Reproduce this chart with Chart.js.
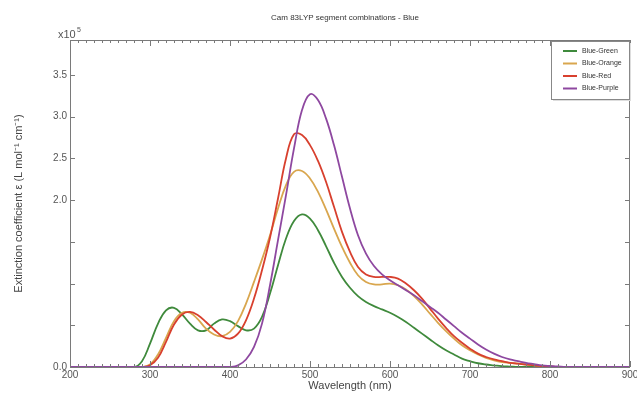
<!DOCTYPE html>
<html>
<head>
<meta charset="utf-8">
<script src="https://cdn.jsdelivr.net/npm/chart.js@4/dist/chart.umd.min.js"></script>
<style>
  html, body { margin: 0; padding: 0; background: #fff; }
  #wrap { position: relative; width: 637px; height: 396px; }
</style>
</head>
<body>
<div id="wrap"><canvas id="myChart"></canvas></div>
<script>
// wavelength grid (nm), values in units of 1e5 L mol^-1 cm^-1
const wavelength = [200, 280, 290, 300, 310, 320, 330, 340, 350, 360, 370, 380, 390, 400, 410, 420, 430, 440, 450, 460, 470, 480, 490, 500, 510, 520, 530, 540, 550, 560, 570, 580, 590, 600, 610, 620, 630, 640, 650, 660, 670, 680, 690, 700, 710, 720, 730, 740, 750, 760, 770, 780, 790, 800, 810, 820, 850, 900];

const blueGreen = [0, 0, 0.07, 0.28, 0.52, 0.68, 0.71, 0.63, 0.52, 0.44, 0.44, 0.52, 0.57, 0.55, 0.49, 0.44, 0.46, 0.60, 0.88, 1.22, 1.54, 1.75, 1.83, 1.78, 1.64, 1.45, 1.25, 1.08, 0.95, 0.85, 0.78, 0.73, 0.69, 0.65, 0.60, 0.54, 0.47, 0.40, 0.33, 0.26, 0.20, 0.15, 0.10, 0.07, 0.045, 0.03, 0.02, 0.01, 0.005, 0, 0, 0, 0, 0, 0, 0, 0, 0];

const blueOrange = [0, 0, 0, 0.03, 0.15, 0.35, 0.55, 0.65, 0.65, 0.57, 0.46, 0.39, 0.37, 0.42, 0.55, 0.76, 1.02, 1.29, 1.58, 1.90, 2.18, 2.34, 2.35, 2.26, 2.10, 1.89, 1.66, 1.44, 1.25, 1.10, 1.02, 0.99, 0.99, 1.00, 0.98, 0.93, 0.85, 0.75, 0.64, 0.53, 0.43, 0.34, 0.26, 0.20, 0.15, 0.11, 0.08, 0.06, 0.05, 0.04, 0.03, 0.02, 0.01, 0.005, 0, 0, 0, 0];

const blueRed = [0, 0, 0, 0.02, 0.11, 0.30, 0.51, 0.63, 0.66, 0.62, 0.54, 0.45, 0.37, 0.34, 0.40, 0.56, 0.82, 1.16, 1.55, 2.02, 2.50, 2.79, 2.78, 2.66, 2.47, 2.22, 1.92, 1.62, 1.38, 1.20, 1.11, 1.08, 1.08, 1.08, 1.06, 1.00, 0.92, 0.82, 0.70, 0.58, 0.47, 0.37, 0.29, 0.22, 0.16, 0.12, 0.09, 0.07, 0.05, 0.04, 0.03, 0.02, 0.01, 0.005, 0, 0, 0, 0];

const bluePurple = [0, 0, 0, 0, 0, 0, 0, 0, 0, 0, 0, 0, 0, 0, 0.02, 0.09, 0.24, 0.52, 0.98, 1.52, 2.06, 2.62, 3.08, 3.27, 3.20, 2.98, 2.66, 2.28, 1.90, 1.58, 1.36, 1.21, 1.11, 1.04, 0.98, 0.92, 0.86, 0.79, 0.72, 0.65, 0.57, 0.49, 0.41, 0.34, 0.27, 0.21, 0.16, 0.12, 0.09, 0.07, 0.05, 0.035, 0.02, 0.012, 0.006, 0, 0, 0];

const seriesNames = ['Blue-Green', 'Blue-Orange', 'Blue-Red', 'Blue-Purple'];
const seriesColors = ['#3f8a3c', '#d9a64e', '#d8402e', '#8e48a0'];
const yTickValues = [0, 2.0, 2.5, 3.0, 3.5];
const chartTitle = 'Cam 83LYP segment combinations - Blue';

function makeSet(i, values, order) {
  return {
    label: seriesNames[i],
    data: wavelength.map((w, j) => ({ x: w, y: values[j] })),
    borderColor: seriesColors[i],
    backgroundColor: seriesColors[i],
    borderWidth: 1.8,
    pointRadius: 0,
    fill: false,
    tension: 0.4,
    order: order
  };
}

// box around the plot with inward ticks, title, exponent and legend
const frameTicks = {
  id: 'frameTicks',
  afterDraw(chart) {
    const { ctx, chartArea: a, scales: { x, y } } = chart;
    ctx.save();
    ctx.strokeStyle = '#7a7a7a';
    ctx.lineWidth = 1;
    ctx.strokeRect(a.left + 0.5, a.top + 0.5, a.right - a.left - 1, a.bottom - a.top);
    ctx.beginPath();
    for (let v = 200; v <= 900; v += 10) {
      const px = Math.round(x.getPixelForValue(v)) + 0.5;
      const len = v % 100 === 0 ? 6 : 3;
      ctx.moveTo(px, a.bottom); ctx.lineTo(px, a.bottom - len);
      ctx.moveTo(px, a.top); ctx.lineTo(px, a.top + len);
    }
    for (let v = 0; v <= 3.9; v += 0.5) {
      const py = Math.round(y.getPixelForValue(v)) + 0.5;
      ctx.moveTo(a.left, py); ctx.lineTo(a.left + 5, py);
      ctx.moveTo(a.right, py); ctx.lineTo(a.right - 5, py);
    }
    ctx.stroke();

    // title over the plot area
    ctx.fillStyle = '#333';
    ctx.font = '8px "Liberation Sans", Arial, sans-serif';
    ctx.textAlign = 'center';
    ctx.textBaseline = 'middle';
    ctx.fillText(chartTitle, (a.left + a.right) / 2 - 5, 18);

    // exponent label
    ctx.textAlign = 'left';
    ctx.textBaseline = 'alphabetic';
    ctx.fillStyle = '#555';
    ctx.font = '11px "Liberation Sans", Arial, sans-serif';
    ctx.fillText('x10', 58, 38);
    ctx.font = '7px "Liberation Sans", Arial, sans-serif';
    ctx.fillText('5', 77, 32);

    // legend box
    const lx = 551, ly = 41, lw = 78, lh = 58;
    ctx.fillStyle = '#ddd';
    ctx.fillRect(lx + 2, ly + 2, lw, lh);
    ctx.fillStyle = '#fff';
    ctx.fillRect(lx, ly, lw, lh);
    ctx.strokeStyle = '#888';
    ctx.strokeRect(lx + 0.5, ly + 0.5, lw, lh);
    ctx.font = '7px "Liberation Sans", Arial, sans-serif';
    ctx.textBaseline = 'middle';
    chart.data.datasets.forEach((ds, i) => {
      const yy = ly + 10 + i * 12.5;
      ctx.strokeStyle = ds.borderColor;
      ctx.lineWidth = 2;
      ctx.beginPath();
      ctx.moveTo(lx + 12, yy); ctx.lineTo(lx + 26, yy);
      ctx.stroke();
      ctx.fillStyle = '#333';
      ctx.fillText(ds.label, lx + 31, yy);
    });
    ctx.restore();
  }
};

new Chart(document.getElementById('myChart'), {
  type: 'line',
  data: {
    datasets: [
      makeSet(0, blueGreen, 3),
      makeSet(1, blueOrange, 2),
      makeSet(2, blueRed, 1),
      makeSet(3, bluePurple, 0)
    ]
  },
  options: {
    responsive: true,
    maintainAspectRatio: false,
    animation: false,
    layout: { padding: { left: 0, right: 7, top: 40, bottom: 0 } },
    plugins: {
      legend: { display: false },
      tooltip: { enabled: false }
    },
    scales: {
      x: {
        type: 'linear',
        min: 200,
        max: 900,
        grid: { display: false, drawTicks: false, tickLength: 0 },
        border: { display: false },
        ticks: {
          stepSize: 100,
          padding: 2,
          color: '#555',
          font: { size: 10, family: '"Liberation Sans", Arial, sans-serif' },
          maxRotation: 0
        },
        title: {
          display: true,
          text: 'Wavelength (nm)',
          color: '#444',
          font: { size: 11, family: '"Liberation Sans", Arial, sans-serif' },
          padding: { top: 0, bottom: 3 }
        },
        afterFit: function (scale) {
          scale.height = 29;
          scale.paddingLeft = 0;
          scale.paddingRight = 0;
        }
      },
      y: {
        type: 'linear',
        min: 0,
        max: 3.92,
        grid: { display: false, drawTicks: false, tickLength: 0 },
        border: { display: false },
        afterBuildTicks: function (scale) {
          scale.ticks = yTickValues.map(v => ({ value: v }));
        },
        ticks: {
          padding: 3,
          color: '#555',
          font: { size: 10, family: '"Liberation Sans", Arial, sans-serif' },
          callback: function (v) { return v.toFixed(1); }
        },
        title: {
          display: true,
          text: 'Extinction coefficient ε (L mol⁻¹ cm⁻¹)',
          color: '#444',
          font: { size: 11, family: '"Liberation Sans", Arial, sans-serif' },
          padding: { top: 12, bottom: 0 }
        },
        afterFit: function (scale) {
          scale.width = 70;
          scale.paddingTop = 0;
          scale.paddingBottom = 0;
        }
      }
    }
  },
  plugins: [frameTicks]
});
</script>
</body>
</html>
